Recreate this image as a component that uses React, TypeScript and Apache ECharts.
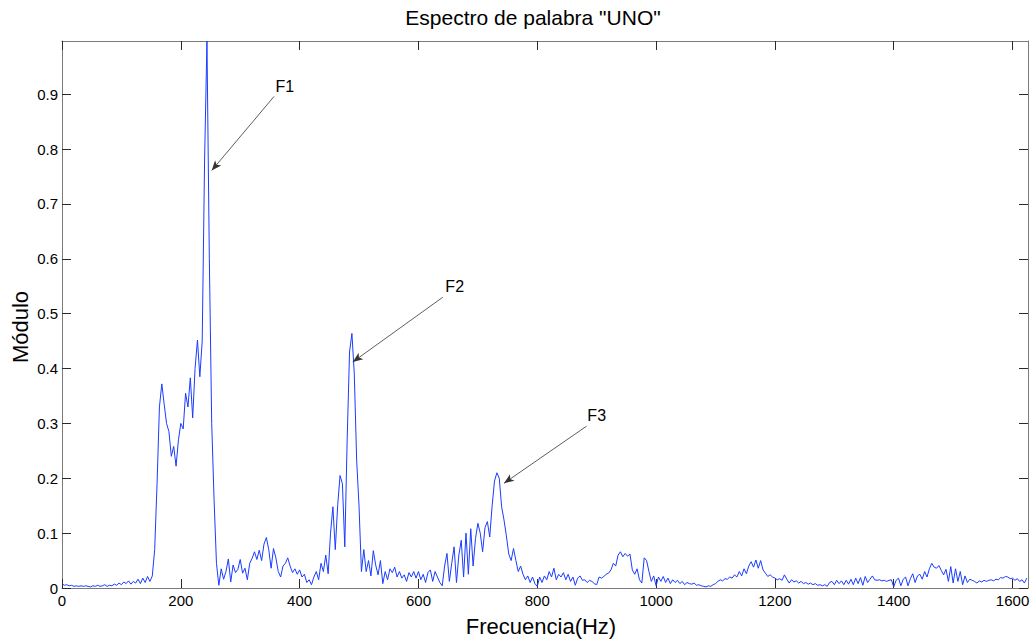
import React, { useEffect, useRef } from "react";
import * as echarts from "echarts";

// Spectrum magnitude of the spoken word "UNO", one value every binHz hertz, starting at 0 Hz.
const binHz = 4;
const freqMax = 1626;
const magMax = 0.997;
const freqTicks = [0, 200, 400, 600, 800, 1000, 1200, 1400, 1600];
const magTicks = [0, 0.1, 0.2, 0.3, 0.4, 0.5, 0.6, 0.7, 0.8, 0.9];

const magnitude: number[] = [
  // 0-36 Hz
  0.008, 0.005, 0.006, 0.004, 0.005, 0.003, 0.004, 0.003, 0.004, 0.003,
  // 40-76 Hz
  0.004, 0.003, 0.002, 0.004, 0.003, 0.005, 0.003, 0.004, 0.006, 0.003,
  // 80-116 Hz
  0.005, 0.004, 0.007, 0.005, 0.009, 0.006, 0.011, 0.008, 0.013, 0.007,
  // 120-156 Hz
  0.012, 0.009, 0.016, 0.008, 0.018, 0.010, 0.021, 0.012, 0.022, 0.070,
  // 160-196 Hz
  0.190, 0.330, 0.372, 0.335, 0.300, 0.285, 0.240, 0.258, 0.222, 0.270,
  // 200-236 Hz
  0.300, 0.290, 0.355, 0.330, 0.383, 0.310, 0.400, 0.452, 0.385, 0.450,
  // 240-276 Hz
  0.780, 0.997, 0.600, 0.300, 0.160, 0.045, 0.005, 0.035, 0.016, 0.030,
  // 280-316 Hz
  0.053, 0.011, 0.042, 0.028, 0.034, 0.052, 0.027, 0.036, 0.015, 0.045,
  // 320-356 Hz
  0.054, 0.066, 0.052, 0.069, 0.050, 0.080, 0.092, 0.070, 0.036, 0.072,
  // 360-396 Hz
  0.055, 0.030, 0.020, 0.040, 0.045, 0.055, 0.040, 0.028, 0.035, 0.025,
  // 400-436 Hz
  0.033, 0.020, 0.025, 0.010, 0.015, 0.006, 0.020, 0.030, 0.015, 0.045,
  // 440-476 Hz
  0.030, 0.060, 0.026, 0.100, 0.148, 0.070, 0.150, 0.205, 0.190, 0.075,
  // 480-516 Hz
  0.270, 0.430, 0.464, 0.390, 0.233, 0.148, 0.030, 0.070, 0.030, 0.050,
  // 520-556 Hz
  0.022, 0.068, 0.042, 0.024, 0.050, 0.008, 0.030, 0.015, 0.035, 0.028,
  // 560-596 Hz
  0.038, 0.020, 0.030, 0.018, 0.024, 0.012, 0.028, 0.020, 0.030, 0.018,
  // 600-636 Hz
  0.030, 0.015, 0.025, 0.010, 0.028, 0.033, 0.012, 0.030, 0.020, 0.010,
  // 640-676 Hz
  0.004, 0.040, 0.063, 0.012, 0.045, 0.075, 0.010, 0.060, 0.087, 0.020,
  // 680-716 Hz
  0.100, 0.025, 0.108, 0.040, 0.090, 0.118, 0.100, 0.066, 0.110, 0.121,
  // 720-756 Hz
  0.093, 0.150, 0.195, 0.210, 0.200, 0.148, 0.124, 0.095, 0.062, 0.050,
  // 760-796 Hz
  0.072, 0.050, 0.030, 0.040, 0.025, 0.015, 0.022, 0.010, 0.020, 0.008,
  // 800-836 Hz
  0.003, 0.020, 0.010, 0.022, 0.015, 0.030, 0.020, 0.036, 0.015, 0.025,
  // 840-876 Hz
  0.020, 0.028, 0.015, 0.025, 0.012, 0.020, 0.005, 0.018, 0.022, 0.014,
  // 880-916 Hz
  0.015, 0.010, 0.014, 0.012, 0.008, 0.006, 0.020, 0.018, 0.021, 0.025,
  // 920-956 Hz
  0.027, 0.033, 0.045, 0.040, 0.060, 0.066, 0.057, 0.063, 0.058, 0.062,
  // 960-996 Hz
  0.033, 0.025, 0.035, 0.015, 0.009, 0.055, 0.050, 0.030, 0.012, 0.022,
  // 1000-1036 Hz
  0.004, 0.020, 0.012, 0.021, 0.010, 0.018, 0.008, 0.015, 0.010, 0.014,
  // 1040-1076 Hz
  0.008, 0.012, 0.006, 0.010, 0.008, 0.007, 0.009, 0.005, 0.006, 0.004,
  // 1080-1116 Hz
  0.003, 0.002, 0.004, 0.003, 0.006, 0.008, 0.012, 0.015, 0.013, 0.017,
  // 1120-1156 Hz
  0.016, 0.020, 0.018, 0.024, 0.020, 0.030, 0.022, 0.035, 0.026, 0.040,
  // 1160-1196 Hz
  0.048, 0.038, 0.051, 0.036, 0.050, 0.033, 0.027, 0.021, 0.024, 0.020,
  // 1200-1236 Hz
  0.018, 0.015, 0.017, 0.014, 0.024, 0.016, 0.009, 0.015, 0.011, 0.013,
  // 1240-1276 Hz
  0.009, 0.012, 0.008, 0.010, 0.007, 0.009, 0.006, 0.008, 0.005, 0.006,
  // 1280-1316 Hz
  0.004, 0.006, 0.003, 0.010, 0.012, 0.006, 0.014, 0.008, 0.013, 0.006,
  // 1320-1356 Hz
  0.014, 0.007, 0.016, 0.006, 0.018, 0.008, 0.019, 0.005, 0.021, 0.010,
  // 1360-1396 Hz
  0.016, 0.022, 0.015, 0.014, 0.015, 0.013, 0.014, 0.012, 0.014, 0.015,
  // 1400-1436 Hz
  0.002, 0.014, 0.018, 0.004, 0.016, 0.020, 0.004, 0.017, 0.026, 0.010,
  // 1440-1476 Hz
  0.022, 0.025, 0.016, 0.030, 0.020, 0.035, 0.045, 0.038, 0.036, 0.041,
  // 1480-1516 Hz
  0.032, 0.024, 0.034, 0.012, 0.039, 0.009, 0.035, 0.012, 0.030, 0.006,
  // 1520-1556 Hz
  0.022, 0.010, 0.016, 0.014, 0.012, 0.009, 0.013, 0.011, 0.014, 0.012,
  // 1560-1596 Hz
  0.014, 0.015, 0.013, 0.016, 0.015, 0.019, 0.018, 0.021, 0.020, 0.017,
  // 1600-1624 Hz
  0.018, 0.014, 0.017, 0.012, 0.015, 0.009, 0.018,
];

// Formant annotations, in data units (Hz, magnitude).
const formantNames = ["F1", "F2", "F3"];
const formantTextAt: [number, number][] = [
  [375, 0.914],
  [661, 0.55],
  [900, 0.315],
];
const formantArrowFrom: [number, number][] = [
  [357, 0.896],
  [641, 0.53],
  [883, 0.295],
];
const formantArrowTo: [number, number][] = [
  [252, 0.761],
  [489.5, 0.412],
  [744, 0.191],
];

const FONT = '"Liberation Sans", Arial, Helvetica, sans-serif';
const W = 1034;
const H = 641;

export default function App() {
  const ref = useRef<HTMLDivElement>(null);

  useEffect(() => {
    if (!ref.current) return;
    const chart = echarts.init(ref.current, undefined, { renderer: "svg" });

    const points = magnitude.map((v, i) => [i * binHz, v]);
    const axisLine = { show: true, onZero: false, lineStyle: { color: "#7a7a7a", width: 1 } };
    const tickStyle = { color: "#2a2a2a", width: 1 };
    const labelStyle = { color: "#000", fontFamily: FONT, fontSize: 15 };
    const plain = (v: number) => String(v);

    const xAxisBase = {
      type: "value",
      min: 0,
      max: freqMax,
      axisLine,
      splitLine: { show: false },
      axisTick: { show: true, inside: true, length: 9, lineStyle: tickStyle, customValues: freqTicks },
    };
    const yAxisBase = {
      type: "value",
      min: 0,
      max: magMax,
      axisLine,
      splitLine: { show: false },
      axisTick: { show: true, inside: true, length: 9, lineStyle: tickStyle, customValues: magTicks },
    };

    chart.setOption({
      animation: false,
      backgroundColor: "#ffffff",
      grid: { left: 62, right: 6, top: 41, bottom: 53, containLabel: false },
      xAxis: [
        {
          ...xAxisBase,
          position: "bottom",
          axisLabel: { show: true, margin: 5, ...labelStyle, formatter: plain, customValues: freqTicks },
        },
        { ...xAxisBase, position: "top", axisLabel: { show: false } },
      ],
      yAxis: [
        {
          ...yAxisBase,
          position: "left",
          axisLabel: { show: true, margin: 4, ...labelStyle, formatter: plain, customValues: magTicks },
        },
        { ...yAxisBase, position: "right", axisLabel: { show: false } },
      ],
      graphic: [
        {
          type: "text",
          x: 533,
          y: 17,
          style: {
            text: 'Espectro de palabra "UNO"',
            font: `21px ${FONT}`,
            fill: "#000",
            textAlign: "center",
            textVerticalAlign: "middle",
          },
        },
        {
          type: "text",
          x: 541,
          y: 626,
          style: {
            text: "Frecuencia(Hz)",
            font: `22px ${FONT}`,
            fill: "#000",
            textAlign: "center",
            textVerticalAlign: "middle",
          },
        },
        {
          type: "text",
          x: 20,
          y: 327,
          rotation: Math.PI / 2,
          style: {
            text: "Módulo",
            font: `22px ${FONT}`,
            fill: "#000",
            textAlign: "center",
            textVerticalAlign: "middle",
          },
        },
      ],
      series: [
        {
          type: "line",
          xAxisIndex: 0,
          yAxisIndex: 0,
          data: points,
          showSymbol: false,
          symbol: "none",
          clip: true,
          lineStyle: { color: "#1a3cff", width: 1 },
          markLine: {
            silent: true,
            animation: false,
            symbol: ["none", "arrow"],
            symbolSize: [6, 10],
            label: { show: false },
            lineStyle: { color: "#333333", width: 0.8, type: "solid" },
            data: formantNames.map((_, i) => [
              { coord: formantArrowFrom[i] },
              { coord: formantArrowTo[i] },
            ]),
          },
          markPoint: {
            silent: true,
            animation: false,
            symbol: "circle",
            symbolSize: 0,
            label: {
              show: true,
              position: "inside",
              color: "#000",
              fontFamily: FONT,
              fontSize: 16,
              formatter: (p: any) => p.name,
            },
            data: formantNames.map((name, i) => ({ name, coord: formantTextAt[i] })),
          },
        },
      ],
    });

    return () => chart.dispose();
  }, []);

  return (
    <div
      ref={ref}
      style={{ position: "fixed", left: 0, top: 0, width: W, height: H, background: "#fff" }}
    />
  );
}
